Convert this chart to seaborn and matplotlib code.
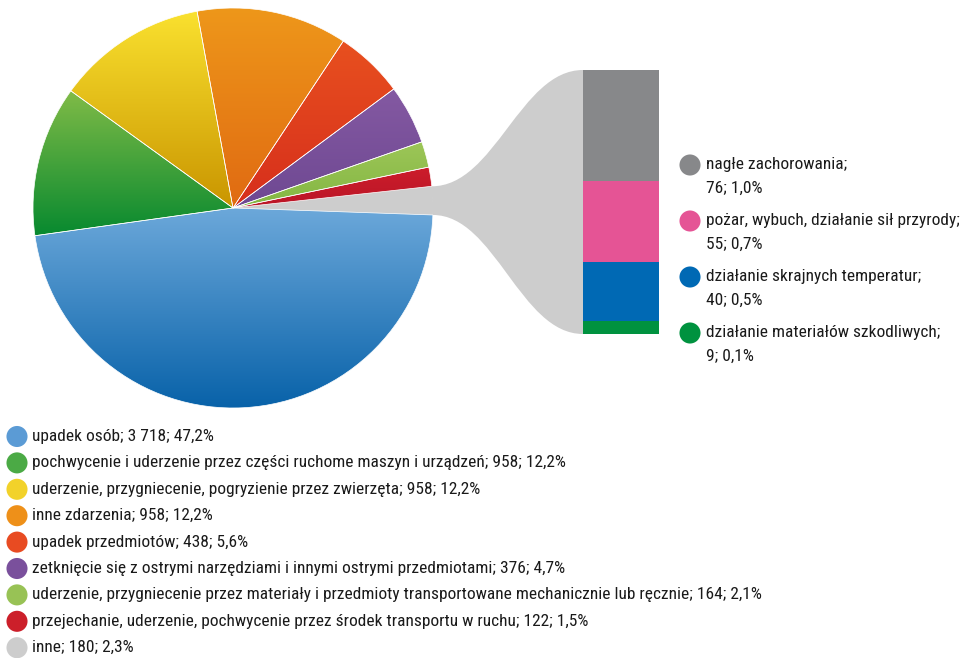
import numpy as np
import matplotlib
matplotlib.use("Agg")
import matplotlib.pyplot as plt
import seaborn as sns
from matplotlib.path import Path
from matplotlib.patches import PathPatch
from matplotlib.colors import LinearSegmentedColormap
from matplotlib import font_manager as fm

# Data
categories = [
    "upadek osób",
    "pochwycenie i uderzenie przez części ruchome maszyn i urządzeń",
    "uderzenie, przygniecenie, pogryzienie przez zwierzęta",
    "inne zdarzenia",
    "upadek przedmiotów",
    "zetknięcie się z ostrymi narzędziami i innymi ostrymi przedmiotami",
    "uderzenie, przygniecenie przez materiały i przedmioty transportowane mechanicznie lub ręcznie",
    "przejechanie, uderzenie, pochwycenie przez środek transportu w ruchu",
    "inne",
]
counts = [3718, 958, 958, 958, 438, 376, 164, 122, 180]
count_labels = ["3 718", "958", "958", "958", "438", "376", "164", "122", "180"]
shares = ["47,2", "12,2", "12,2", "12,2", "5,6", "4,7", "2,1", "1,5", "2,3"]

sub_categories = [
    "nagłe zachorowania",
    "pożar, wybuch, działanie sił przyrody",
    "działanie skrajnych temperatur",
    "działanie materiałów szkodliwych",
]
sub_counts = [76, 55, 40, 9]
sub_shares = ["1,0", "0,7", "0,5", "0,1"]

# Colours
legend_colors = ["#5B9BD5", "#4BAA45", "#F2D22A", "#EE9019", "#E84B22",
                 "#7A509C", "#98C255", "#CC1F2A", "#CDCDCD"]
grad_top = ["#6CA8DA", "#80BB47", "#FAE12F", "#EE971A", "#E8501F",
            "#8459A2", "#9DC658", "#CC1D2B", "#CDCDCD"]
grad_bottom = ["#0862A9", "#07892F", "#C99500", "#E06A12", "#D62E1C",
               "#6E4892", "#83B642", "#BA1527", "#CDCDCD"]
sub_colors = ["#87888A", "#E55495", "#0069B4", "#00923F"]

# Style
sns.set_style("white")
names = {f.name for f in fm.fontManager.ttflist}
fs = 12.5
if "Roboto Condensed" in names:
    fam = "Roboto Condensed"
elif "Archivo Narrow" in names:
    fam = "Archivo Narrow"
else:
    fam, fs = "Liberation Sans", 11
plt.rcParams["font.family"] = [fam, "DejaVu Sans"]

W, H = 962, 658
fig = plt.figure(figsize=(W / 100, H / 100), dpi=100)
ax = fig.add_axes([0, 0, 1, 1])

cx, cy, r = 233, H - 208, 200

wedges, _ = ax.pie(
    counts,
    colors=grad_top,
    startangle=-2,
    counterclock=False,
    center=(cx, cy),
    radius=r,
    wedgeprops=dict(edgecolor="white", linewidth=0.5),
)
wedges[-1].set_edgecolor("#CDCDCD")

# vertical gradient in each slice
grad = np.linspace(0, 1, 256).reshape(-1, 1)
for w, top, bot in zip(wedges, grad_top, grad_bottom):
    if top == bot:
        continue
    ext = w.get_path().get_extents()
    cmap = LinearSegmentedColormap.from_list("g", [bot, top])
    im = ax.imshow(grad, cmap=cmap, origin="lower", aspect="auto",
                   extent=[ext.x0, ext.x1, ext.y0, ext.y1], zorder=1)
    im.set_clip_path(w)
    w.set_zorder(2)
    w.set_facecolor("none")

# bar of the "inne" group
bx0, bw = 583, 76
by0, bh = H - 334, 264
ax2 = fig.add_axes([bx0 / W, by0 / H, bw / W, bh / H])
bottom = 0
for v, c in zip(sub_counts[::-1], sub_colors[::-1]):
    ax2.bar(0, v, bottom=bottom, width=1, color=c, linewidth=0)
    bottom += v
ax2.set_xlim(-0.5, 0.5)
ax2.set_ylim(0, sum(sub_counts))
ax2.axis("off")

# funnel from the gray slice to the bar
last = wedges[-1]
t1, t2 = np.radians(last.theta1), np.radians(last.theta2)
p_bot = (cx + r * np.cos(t1), cy + r * np.sin(t1))
p_top = (cx + r * np.cos(t2), cy + r * np.sin(t2))
bar_top = (bx0, by0 + bh)
bar_bot = (bx0, by0)
verts = [
    p_top, (495, p_top[1]), (520, bar_top[1]), bar_top,
    bar_bot,
    (520, bar_bot[1]), (495, p_bot[1]), p_bot,
    p_top,
]
codes = [Path.MOVETO, Path.CURVE4, Path.CURVE4, Path.CURVE4,
         Path.LINETO,
         Path.CURVE4, Path.CURVE4, Path.CURVE4,
         Path.CLOSEPOLY]
ax.add_patch(PathPatch(Path(verts, codes), facecolor="#CDCDCD",
                       edgecolor="none", zorder=0.5))

# bottom legend
rows_y = [H - (436.5 + i * 26.4) for i in range(len(categories))]
sns.scatterplot(x=[17] * len(categories), y=rows_y, hue=categories,
                palette=dict(zip(categories, legend_colors)), s=230,
                linewidth=0, legend=False, ax=ax, zorder=3)
for yy, name, n, p in zip(rows_y, categories, count_labels, shares):
    ax.text(32, yy, f"{name}; {n}; {p}%", fontsize=fs, va="center",
            ha="left", color="#1a1a1a")

# right legend
sub_y = [H - y for y in [165, 221, 277, 333]]
sns.scatterplot(x=[690] * 4, y=sub_y, hue=sub_categories,
                palette=dict(zip(sub_categories, sub_colors)), s=230,
                linewidth=0, legend=False, ax=ax, zorder=3)
for yy, name, n, p in zip(sub_y, sub_categories, sub_counts, sub_shares):
    ax.text(706, yy, f"{name};", fontsize=fs, va="center", ha="left",
            color="#1a1a1a")
    ax.text(706, yy - 23, f"{n}; {p}%", fontsize=fs, va="center",
            ha="left", color="#1a1a1a")

ax.set_xlim(0, W)
ax.set_ylim(0, H)
ax.set_aspect("auto")
ax.axis("off")

plt.savefig("out.png", dpi=100)
